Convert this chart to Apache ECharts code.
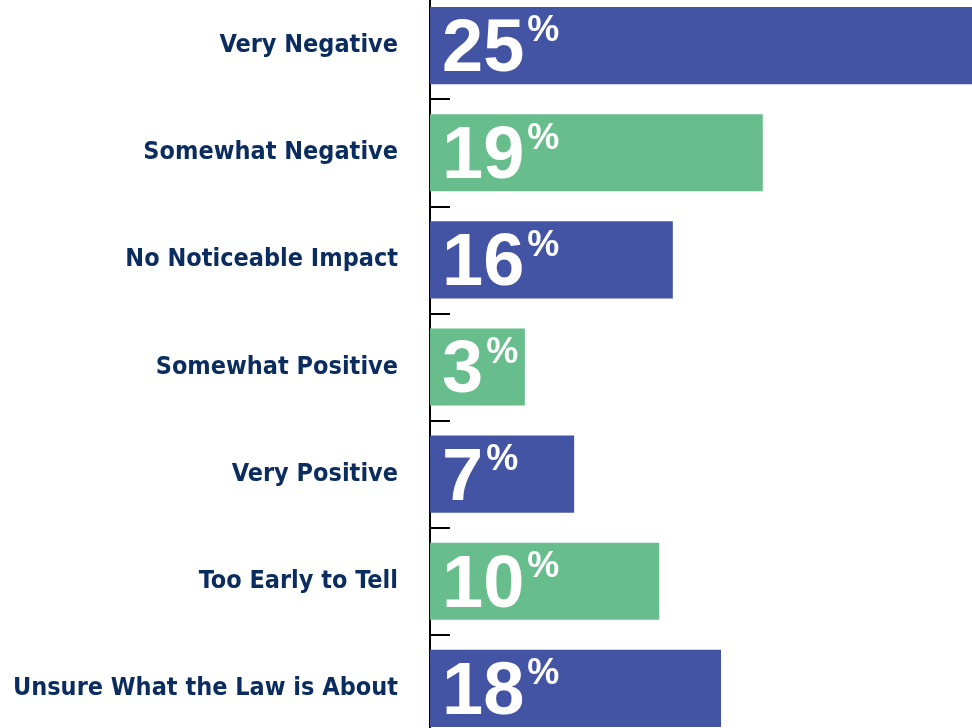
<!DOCTYPE html>
<html>
<head>
<meta charset="utf-8">
<script src="https://cdn.jsdelivr.net/npm/echarts@6/dist/echarts.min.js"></script>
<style>
  html, body { margin: 0; padding: 0; background: #fff; }
  #chart { width: 972px; height: 728px; }
</style>
</head>
<body>
<div id="chart"></div>
<script>
// answers, top to bottom
const categories = [
  'Very Negative',
  'Somewhat Negative',
  'No Noticeable Impact',
  'Somewhat Positive',
  'Very Positive',
  'Too Early to Tell',
  'Unsure What the Law is About'
];
// printed shares (%)
const shares = [25, 19, 16, 3, 7, 10, 18];
// drawn bar lengths (share of plot width, %)
const barLengths = [100, 61.4, 44.8, 17.5, 26.6, 42.3, 53.7];
const barColors = ['#4454a4', '#67bd8c'];

let myChart = echarts.init(document.getElementById('chart'));

let option = {
  backgroundColor: '#ffffff',
  animation: false,
  grid: {
    left: 430,
    right: 0,
    top: -8,
    bottom: -14,
    containLabel: false,
    outerBoundsMode: 'none'
  },
  xAxis: {
    type: 'value',
    min: 0,
    max: 100,
    show: false
  },
  yAxis: {
    type: 'category',
    inverse: true,
    data: categories,
    axisLine: { show: true, lineStyle: { color: '#000', width: 2 } },
    axisTick: { show: true, inside: true, length: 20, lineStyle: { color: '#000', width: 2 } },
    axisLabel: {
      margin: 32,
      color: '#0b2c5e',
      fontFamily: '"Liberation Sans Narrow", "DejaVu Sans Condensed", sans-serif',
      fontWeight: 'bold',
      fontSize: 25
    },
    splitLine: { show: false }
  },
  series: [
    {
      type: 'bar',
      barWidth: '72%',
      z: 1,
      data: barLengths.map((v, i) => ({
        value: v,
        itemStyle: { color: barColors[i % 2] }
      })),
      label: {
        show: true,
        position: 'insideLeft',
        offset: [7, 5],
        formatter: (p) => '{num|' + shares[p.dataIndex] + '}{pct|%}',
        rich: {
          num: {
            color: '#fff',
            fontFamily: '"Liberation Sans", Arial, sans-serif',
            fontWeight: 'bold',
            fontSize: 74,
            lineHeight: 74
          },
          pct: {
            color: '#fff',
            fontFamily: '"Liberation Sans", Arial, sans-serif',
            fontWeight: 'bold',
            fontSize: 36,
            lineHeight: 74,
            verticalAlign: 'top',
            padding: [0, 0, 30, 3]
          }
        }
      }
    }
  ]
};

option && myChart.setOption(option);
</script>
</body>
</html>
